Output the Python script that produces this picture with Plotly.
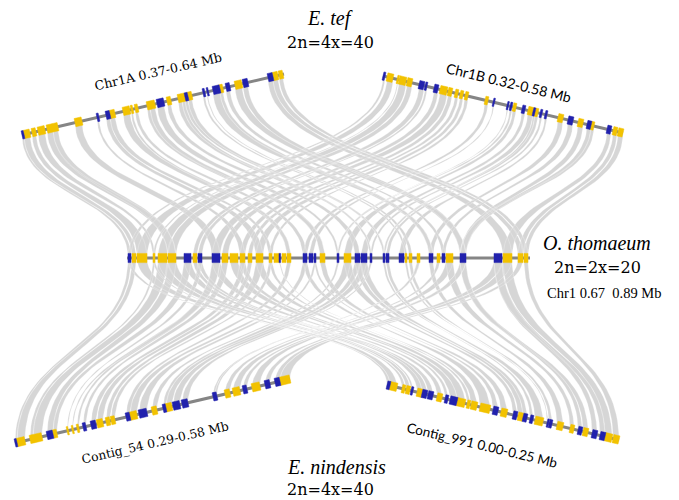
import numpy as np
import plotly.graph_objects as go

# ---------------- data (gene starts/ends in track units along each segment) ----------------
mid_start = [1,5,10,26,31,41,57,66,71,85,95,103,113,121,129,142,147,152,155,160,176,182,187,193,210,217,228,234,243,256,259,272,278,282,290,302,310,315,319,333,367,376,391,397]
mid_end   = [4,9,20,28,40,49,64,70,75,93,101,111,118,125,136,145,152,153,159,164,180,186,189,198,212,224,233,240,245,258,262,277,280,285,293,306,313,318,326,339,375,385,396,401]
mid_strand = list("-+++++-+--" "+++++++-++" "---+-+----" "--+++-+-+-" "-+++")

chr1a_start = [0,2,10,16,25,31,53,75,84,88,101,109,113,125,128,135,145,156,160,163,166,181,185,191,198,204,213,221,246,251,257]
chr1a_end   = [2,8,14,23,31,36,60,77,88,93,108,111,116,128,133,142,149,160,163,166,170,183,186,198,201,208,220,226,251,256,261]
chr1a_strand = list("-++++++--+" "+++++-+++-" "+---+-+--+" "+")

chr1b_start = [0,4,14,16,24,36,42,51,57,65,72,77,82,102,110,124,127,130,139,145,150,152,157,162,175,185,195,204,208,224,230,235]
chr1b_end   = [2,10,15,23,29,41,44,55,64,69,75,80,85,105,111,125,129,133,142,150,152,155,159,164,180,190,200,208,211,228,234,240]
chr1b_strand = list("-++++---++" "++++---+-+" "-+--+-+-+-" "++")

c54_start = [0,2,15,18,32,38,52,57,62,68,76,82,91,96,111,115,124,137,148,151,158,167,198,200,210,218,228,237,250,260,265]
c54_end   = [2,10,18,27,38,42,53,58,64,71,81,88,95,100,115,122,132,142,151,157,165,173,200,202,215,225,232,245,255,265,275]
c54_strand = list("-+++-++++-" "-+++-+-+-+" "----++-+--" "+")

c991_start = [0,3,15,19,24,30,35,41,50,58,63,70,80,84,93,106,114,126,131,136,143,148,160,162,170,183,191,196,205,213,218,226]
c991_end   = [3,10,18,23,26,35,40,46,55,61,70,78,83,90,103,111,120,130,136,140,146,156,161,165,176,187,195,201,210,218,225,232]
c991_strand = list("-+++-+--+-" "-++++-+-+-" "-+--++-+--" "++")

seg_len = {"Chr1": 403, "Chr1A": 262, "Chr1B": 240, "Contig_54": 275, "Contig_991": 232}

# ---------------- layout of the tracks (figure coordinates) ----------------
seg_pos = {
    "Chr1":       ((127, 258), (530, 258)),
    "Chr1A":      ((22, 135), (284, 74)),
    "Chr1B":      ((383, 76), (623, 133)),
    "Contig_54":  ((15, 443), (290, 379)),
    "Contig_991": ((387, 385), (619, 440)),
}
YELLOW = "#f2c200"
BLUE = "#2121ad"
RIBBON = "#d6d6d6"

def point(seg, t):
    (x0, y0), (x1, y1) = seg_pos[seg]
    f = t / seg_len[seg]
    return np.array([x0 + f * (x1 - x0), y0 + f * (y1 - y0)])

def bezier(a, b, n=40):
    ym = (a[1] + b[1]) / 2
    p0, p1, p2, p3 = a, np.array([a[0], ym]), np.array([b[0], ym]), b
    s = np.linspace(0, 1, n)[:, None]
    return ((1 - s) ** 3) * p0 + 3 * ((1 - s) ** 2) * s * p1 + 3 * (1 - s) * s ** 2 * p2 + s ** 3 * p3

outer = [
    ("Chr1A", chr1a_start, chr1a_end, chr1a_strand),
    ("Chr1B", chr1b_start, chr1b_end, chr1b_strand),
    ("Contig_54", c54_start, c54_end, c54_strand),
    ("Contig_991", c991_start, c991_end, c991_strand),
]

mid_cf = np.array([(s + e) / 2 / seg_len["Chr1"] for s, e in zip(mid_start, mid_end)])

fig = go.Figure()

# ribbons
rx, ry = [], []
for seg, st, en, _ in outer:
    for s, e in zip(st, en):
        f = (s + e) / 2 / seg_len[seg]
        j = int(np.argmin(np.abs(mid_cf - f)))
        e1 = bezier(point(seg, s), point("Chr1", mid_start[j]))
        e2 = bezier(point(seg, e), point("Chr1", mid_end[j]))[::-1]
        poly = np.vstack([e1, e2, e1[:1]])
        rx += list(poly[:, 0]) + [None]
        ry += list(poly[:, 1]) + [None]
fig.add_trace(go.Scatter(x=rx, y=ry, mode="lines", fill="toself", fillcolor=RIBBON,
                         line=dict(color="white", width=0.25), hoverinfo="skip", showlegend=False))

# backbones
for seg in seg_pos:
    a, b = point(seg, 0), point(seg, seg_len[seg])
    fig.add_trace(go.Scatter(x=[a[0], b[0]], y=[a[1], b[1]], mode="lines",
                             line=dict(color="#858585", width=3), hoverinfo="skip", showlegend=False))

# genes
tracks = [("Chr1", mid_start, mid_end, mid_strand)] + outer
for strand, col in (("+", YELLOW), ("-", BLUE)):
    gx, gy = [], []
    for seg, st, en, sd in tracks:
        (x0, y0), (x1, y1) = seg_pos[seg]
        u = np.array([x1 - x0, y1 - y0], float)
        u /= np.linalg.norm(u)
        nrm = np.array([-u[1], u[0]])
        h = 4.6 if seg == "Chr1" else 4.2
        for s, e, d in zip(st, en, sd):
            if d != strand:
                continue
            a, b = point(seg, s), point(seg, e)
            if np.linalg.norm(b - a) < 1.6:
                b = a + u * 1.6
            c = [a + h * nrm, b + h * nrm, b - h * nrm, a - h * nrm, a + h * nrm]
            gx += [p[0] for p in c] + [None]
            gy += [p[1] for p in c] + [None]
    fig.add_trace(go.Scatter(x=gx, y=gy, mode="lines", fill="toself", fillcolor=col,
                             line=dict(color=col, width=0.5), hoverinfo="skip", showlegend=False))

SERIF = "DejaVu Serif"
TIMES = "Liberation Serif"
SANS = "Lato"
ann = [
    dict(x=330, y=18, text="<i>E. tef</i>", font=dict(family=TIMES, size=20)),
    dict(x=330, y=42, text="2n=4x=40", font=dict(family=SERIF, size=16)),
    dict(x=158, y=71, text="Chr1A 0.37-0.64 Mb", font=dict(family=SERIF, size=12.6), textangle=-13),
    dict(x=509, y=82, text="Chr1B 0.32-0.58 Mb", font=dict(family=SANS, size=14), textangle=13.5),
    dict(x=597, y=243, text="<i>O. thomaeum</i>", font=dict(family=TIMES, size=20)),
    dict(x=597, y=267, text="2n=2x=20", font=dict(family=SERIF, size=16)),
    dict(x=604, y=293, text="Chr1 0.67  0.89 Mb", font=dict(family=TIMES, size=14.5)),
    dict(x=155, y=443, text="Contig_54 0.29-0.58 Mb", font=dict(family=SERIF, size=12.3), textangle=-13),
    dict(x=482, y=445, text="Contig_991 0.00-0.25 Mb", font=dict(family=SANS, size=13.5), textangle=13.5),
    dict(x=336, y=467, text="<i>E. nindensis</i>", font=dict(family=TIMES, size=20)),
    dict(x=330, y=489, text="2n=4x=40", font=dict(family=SERIF, size=16)),
]
for a in ann:
    a.setdefault("textangle", 0)
    a["font"]["color"] = "black"
    fig.add_annotation(xref="x", yref="y", showarrow=False, xanchor="center", yanchor="middle", **a)

fig.update_layout(
    width=679, height=500, margin=dict(l=0, r=0, t=0, b=0),
    paper_bgcolor="white", plot_bgcolor="white",
    xaxis=dict(range=[0, 679], visible=False, fixedrange=True),
    yaxis=dict(range=[500, 0], visible=False, fixedrange=True),
)
fig.write_html(
    "out.html",
    config={"displayModeBar": False},
    post_script="document.body.style.margin='0';document.documentElement.style.overflow='hidden';",
)
